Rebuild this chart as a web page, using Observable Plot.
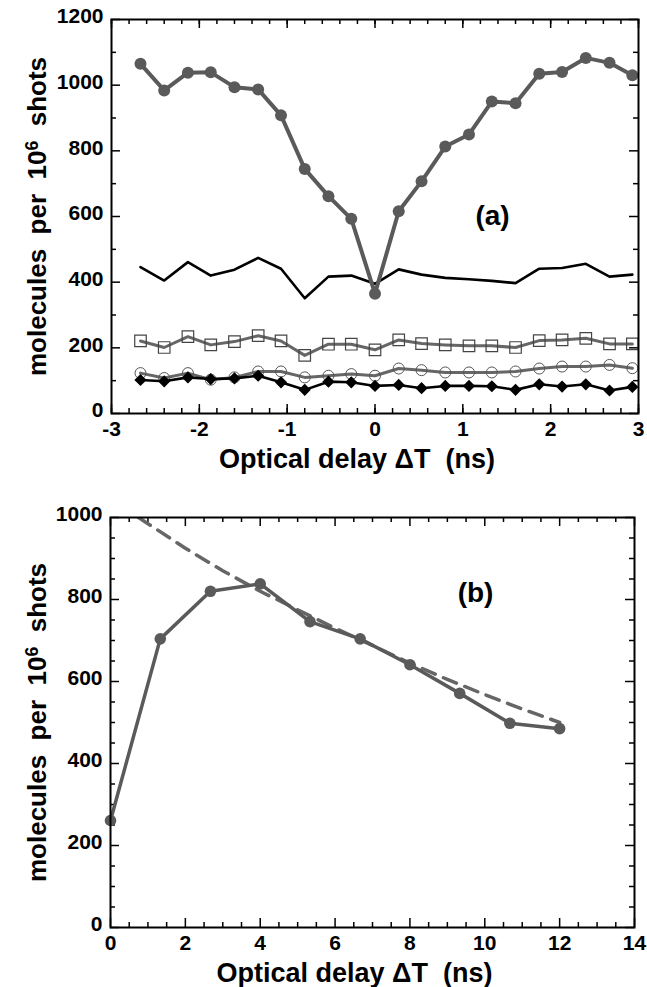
<!DOCTYPE html>
<html>
<head>
<meta charset="utf-8">
<script src="https://cdn.jsdelivr.net/npm/d3@7"></script>
<script src="https://cdn.jsdelivr.net/npm/@observablehq/plot@0.6"></script>
<style>
  body { margin: 0; background: #fff; }
  #chart svg { display: block; }
</style>
</head>
<body>
<div id="chart"></div>
<script>
// ---------- Panel (a) data ----------
const delayA = [-2.67,-2.4,-2.13,-1.87,-1.6,-1.33,-1.07,-0.8,-0.53,-0.27,0,0.27,0.53,0.8,1.07,1.33,1.6,1.87,2.13,2.4,2.67,2.93];
const filledCircles = [1065,984,1038,1039,994,987,908,745,662,593,365,616,707,813,850,950,945,1035,1040,1083,1068,1030];
const blackLine     = [446,405,461,420,438,474,441,351,417,420,395,439,423,413,409,404,397,441,443,456,417,423];
const openSquares   = [221,201,234,209,219,237,221,177,211,211,194,224,213,209,206,206,201,222,224,229,212,212];
const openCircles   = [123,108,123,103,110,128,128,110,115,120,115,137,132,125,125,125,128,137,143,143,148,138];
const blackDiamonds = [102,98,110,105,107,115,95,72,97,95,84,87,77,84,84,83,72,89,82,89,70,81];

// ---------- Panel (b) data ----------
const delayB = [0,1.33,2.67,4,5.33,6.67,8,9.33,10.67,12];
const signalB = [261,704,820,838,746,704,641,571,498,485];
const fitDelay = [0.75,2,3,4,5,6,7,8,9,10,11,12];
const fitValue = [1000,925,870,820,775,730,688,645,605,568,533,500];

// ---------- Tick labels ----------
const xTicksA = [-3,-2,-1,0,1,2,3];
const yTicksA = [0,200,400,600,800,1000,1200];
const xTicksB = [0,2,4,6,8,10,12,14];
const yTicksB = [0,200,400,600,800,1000];

const yTitle = "molecules per 10^6 shots";
const xTitle = "Optical delay \u0394T\u00a0 (ns)";

const tableA = delayA.map((t, i) => ({
  t, filled: filledCircles[i], black: blackLine[i], sq: openSquares[i],
  circ: openCircles[i], dia: blackDiamonds[i]
}));
const tableB = delayB.map((t, i) => ({t, v: signalB[i]}));
const tableFit = fitDelay.map((t, i) => ({t, v: fitValue[i]}));

const FONT = "'Liberation Sans', Arial, Helvetica, sans-serif";
const GRAY = "#5a5a5a";
const LGRAY = "#666666";
const TICKFS = 21;

function frameTicks(xMajor, xMinor, yMajor, yMinor, plotW, plotH) {
  const maj = 9, min = 5, sw = 1.5;
  const marks = [];
  for (const [vals, len] of [[xMajor, maj], [xMinor, min]]) {
    marks.push(Plot.tickX(vals, {x: d => d, insetTop: plotH - len, stroke: "black", strokeWidth: sw}));
    marks.push(Plot.tickX(vals, {x: d => d, insetBottom: plotH - len, stroke: "black", strokeWidth: sw}));
  }
  for (const [vals, len] of [[yMajor, maj], [yMinor, min]]) {
    marks.push(Plot.tickY(vals, {y: d => d, insetRight: plotW - len, stroke: "black", strokeWidth: sw}));
    marks.push(Plot.tickY(vals, {y: d => d, insetLeft: plotW - len, stroke: "black", strokeWidth: sw}));
  }
  return marks;
}

function titleMarks(ml) {
  return [
    Plot.text([yTitle], {frameAnchor: "left", dx: 37 - ml, rotate: -90, textAnchor: "middle", lineAnchor: "middle", fontSize: 26, fontWeight: "bold", fill: "black"}),
    Plot.text([xTitle], {frameAnchor: "bottom", dx: -18, dy: 46, textAnchor: "middle", lineAnchor: "middle", fontSize: 27, fontWeight: "bold", fill: "black"})
  ];
}

// ---------- Panel (a) ----------
const A = {W: 647, H: 487, mt: 19, mb: 74, ml: 111, mr: 9};
const aPlotW = A.W - A.ml - A.mr, aPlotH = A.H - A.mt - A.mb;
const plotA = Plot.plot({
  width: A.W, height: A.H,
  marginTop: A.mt, marginBottom: A.mb, marginLeft: A.ml, marginRight: A.mr,
  style: {fontFamily: FONT, fontWeight: "bold", background: "white", color: "black", overflow: "visible"},
  x: {domain: [-3, 3]},
  y: {domain: [0, 1200]},
  marks: [
    ...frameTicks(xTicksA, d3.range(-3, 3.001, 0.2).map(v => +v.toFixed(2)), yTicksA, d3.range(100, 1200, 200), aPlotW, aPlotH),
    Plot.axisX({ticks: xTicksA, tickSize: 0, tickPadding: 8, tickFormat: d => String(d), fontSize: TICKFS, fontWeight: "bold", label: null}),
    Plot.axisY({ticks: yTicksA, tickSize: 0, tickPadding: 8, dy: -3, tickFormat: d => String(d), fontSize: TICKFS, fontWeight: "bold", label: null}),
    Plot.line(tableA, {x: "t", y: "black", stroke: "black", strokeWidth: 2.6}),
    Plot.line(tableA, {x: "t", y: "sq", stroke: LGRAY, strokeWidth: 3}),
    Plot.dot(tableA, {x: "t", y: "sq", symbol: "square", r: 6.5, stroke: "#444", strokeWidth: 1.2, fill: "none"}),
    Plot.line(tableA, {x: "t", y: "circ", stroke: LGRAY, strokeWidth: 3}),
    Plot.dot(tableA, {x: "t", y: "circ", r: 5.5, stroke: "#555", strokeWidth: 1, fill: "none"}),
    Plot.line(tableA, {x: "t", y: "dia", stroke: "black", strokeWidth: 2.6}),
    Plot.dot(tableA, {x: "t", y: "dia", symbol: "diamond2", r: 5.5, fill: "black", stroke: "none"}),
    Plot.line(tableA, {x: "t", y: "filled", stroke: GRAY, strokeWidth: 4}),
    Plot.dot(tableA, {x: "t", y: "filled", r: 6, fill: GRAY}),
    Plot.frame({stroke: "black", strokeWidth: 2}),
    Plot.text(["(a)"], {frameAnchor: "top-left", dx: 492 - A.ml, dy: 216 - A.mt, textAnchor: "middle", lineAnchor: "middle", fontSize: 28, fontWeight: "bold", fill: "black"}),
    ...titleMarks(A.ml)
  ]
});

// ---------- Panel (b) ----------
const B = {W: 647, H: 500, mt: 30, mb: 60, ml: 110, mr: 13};
const bPlotW = B.W - B.ml - B.mr, bPlotH = B.H - B.mt - B.mb;
const plotB = Plot.plot({
  width: B.W, height: B.H,
  marginTop: B.mt, marginBottom: B.mb, marginLeft: B.ml, marginRight: B.mr,
  style: {fontFamily: FONT, fontWeight: "bold", background: "white", color: "black", overflow: "visible"},
  x: {domain: [0, 14]},
  y: {domain: [0, 1000]},
  marks: [
    ...frameTicks(xTicksB, d3.range(0.5, 14, 0.5).filter(v => v % 2 !== 0), yTicksB, d3.range(50, 1000, 50).filter(v => v % 200 !== 0), bPlotW, bPlotH),
    Plot.axisX({ticks: xTicksB, tickSize: 0, tickPadding: 8, tickFormat: d => String(d), fontSize: TICKFS, fontWeight: "bold", label: null}),
    Plot.axisY({ticks: yTicksB, tickSize: 0, tickPadding: 8, dy: -3, tickFormat: d => String(d), fontSize: TICKFS, fontWeight: "bold", label: null}),
    Plot.line(tableFit, {x: "t", y: "v", stroke: LGRAY, strokeWidth: 3.5, strokeDasharray: "14,9", clip: true}),
    Plot.line(tableB, {x: "t", y: "v", stroke: GRAY, strokeWidth: 3.5}),
    Plot.dot(tableB, {x: "t", y: "v", r: 5.8, fill: GRAY}),
    Plot.frame({stroke: "black", strokeWidth: 2}),
    Plot.text(["(b)"], {frameAnchor: "top-left", dx: 475 - B.ml, dy: 593 - 487 - B.mt, textAnchor: "middle", lineAnchor: "middle", fontSize: 28, fontWeight: "bold", fill: "black"}),
    ...titleMarks(B.ml)
  ]
});

// Render the "10^6" of the y titles as a real superscript.
for (const svg of [plotA, plotB]) {
  d3.select(svg).selectAll("text").filter(function() { return this.textContent === yTitle; })
    .each(function() {
      const t = d3.select(this).text(null).attr("xml:space", "preserve").style("white-space", "pre");
      t.append("tspan").text("molecules  per  10");
      t.append("tspan").attr("dy", "-0.45em").attr("font-size", "0.68em").text("6");
      t.append("tspan").attr("dy", "0.306em").text("  shots");
    });
}

const chart = document.getElementById("chart");
chart.append(plotA, plotB);
</script>
</body>
</html>
